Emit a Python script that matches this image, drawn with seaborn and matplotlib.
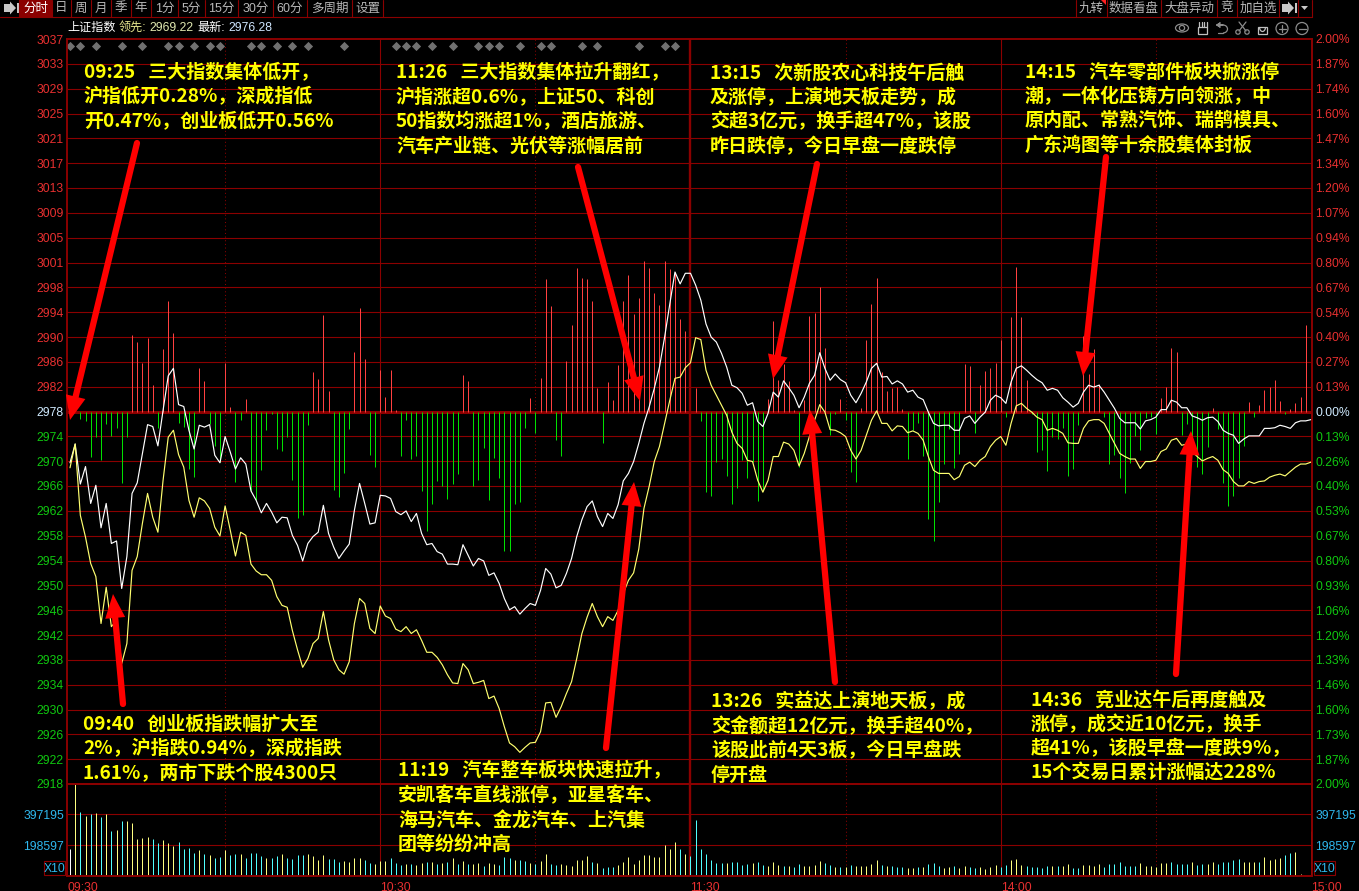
import numpy as np
import pandas as pd
import matplotlib
matplotlib.use("Agg")
import matplotlib.pyplot as plt
from matplotlib.patches import Polygon, Rectangle, Circle, Ellipse, Arc
import seaborn as sns

# ---------- data ----------
PREV_CLOSE = 2978.0
index_line = [
 2969.8,2972.8,2966.4,2969.2,2963.3,2966.2,2959.4,2963.3,2956.9,2957.3,
 2949.7,2954.8,2964.9,2966.6,2971.2,2975.9,2975.6,2972.5,2978.2,2983.7,
 2984.9,2979.1,2978.8,2975.0,2972.0,2975.8,2975.5,2975.9,2971.0,2969.8,
 2974.0,2971.5,2968.8,2970.6,2969.6,2965.3,2963.8,2961.8,2963.3,2961.9,
 2960.2,2961.1,2961.0,2958.2,2956.6,2954.1,2956.9,2958.0,2958.7,2963.0,
 2958.5,2956.3,2954.5,2955.7,2956.8,2962.2,2966.5,2963.3,2960.0,2960.2,
 2964.6,2964.5,2964.1,2962.0,2961.5,2962.1,2960.4,2961.7,2958.5,2956.7,
 2956.9,2955.6,2955.2,2953.6,2953.6,2953.5,2956.7,2955.0,2953.3,2954.5,
 2954.1,2951.8,2952.2,2950.5,2948.1,2946.3,2946.8,2945.6,2946.5,2947.3,
 2947.0,2949.4,2952.9,2952.0,2949.8,2950.2,2952.1,2954.5,2958.0,2960.7,
 2962.8,2963.7,2961.2,2959.6,2961.7,2960.9,2963.1,2966.9,2968.1,2970.0,
 2972.9,2976.1,2978.7,2981.7,2985.1,2989.9,2995.2,3000.3,2998.4,3000.1,
 3000.1,2998.2,2995.8,2992.0,2989.9,2989.1,2987.3,2985.1,2982.2,2981.8,
 2980.9,2979.0,2979.4,2976.4,2975.6,2977.7,2981.1,2980.3,2982.9,2981.8,
 2980.6,2978.6,2980.3,2982.5,2983.8,2987.4,2984.9,2983.0,2984.0,2983.1,
 2982.6,2980.6,2979.4,2980.9,2982.7,2984.9,2985.7,2983.5,2983.6,2982.4,
 2982.9,2982.4,2981.1,2981.4,2980.3,2979.9,2977.9,2976.1,2975.7,2975.8,
 2975.8,2975.0,2975.0,2976.9,2977.3,2976.1,2977.1,2977.9,2979.8,2980.6,
 2980.2,2979.3,2982.7,2984.9,2985.3,2984.6,2983.8,2983.1,2982.6,2981.4,
 2981.7,2981.4,2980.2,2979.5,2978.7,2979.3,2981.1,2982.2,2981.9,2982.2,
 2981.1,2979.8,2978.5,2976.9,2976.2,2976.2,2976.2,2975.2,2976.5,2976.7,
 2977.1,2978.3,2978.3,2979.8,2979.5,2978.6,2978.6,2977.3,2977.0,2976.6,
 2977.0,2977.1,2976.4,2975.0,2974.5,2974.2,2972.9,2973.6,2974.1,2974.1,
 2974.1,2975.3,2975.3,2975.4,2975.8,2975.6,2975.3,2976.2,2976.5,2976.5,
 2976.7]
leading_line = [
 2969.0,2972.8,2961.4,2957.9,2953.7,2951.6,2944.1,2949.9,2943.6,2944.6,
 2937.7,2940.9,2952.6,2954.8,2960.1,2964.9,2961.1,2958.7,2967.0,2973.9,
 2975.0,2971.1,2969.1,2963.8,2961.1,2964.2,2963.7,2962.5,2959.5,2958.1,
 2962.9,2959.0,2954.9,2958.7,2958.2,2953.6,2952.5,2951.9,2951.9,2951.0,
 2948.4,2947.0,2946.7,2943.0,2939.9,2937.1,2938.5,2940.9,2941.7,2946.0,
 2941.5,2938.3,2936.7,2936.0,2938.0,2944.1,2948.1,2947.3,2943.3,2942.5,
 2946.9,2945.3,2944.9,2943.2,2942.8,2943.6,2942.5,2943.1,2941.4,2939.5,
 2939.5,2938.7,2937.5,2935.9,2934.6,2934.5,2937.7,2936.7,2934.5,2934.7,
 2935.0,2932.1,2932.5,2930.5,2927.6,2925.0,2924.4,2923.5,2924.3,2925.0,
 2925.1,2926.8,2931.4,2931.5,2929.1,2930.8,2932.9,2934.8,2938.5,2942.5,
 2945.1,2947.3,2945.2,2943.6,2945.2,2944.6,2946.2,2948.9,2951.0,2952.2,
 2956.0,2962.5,2966.0,2970.0,2972.4,2976.1,2979.8,2983.3,2983.5,2985.0,
 2985.8,2989.8,2989.5,2984.6,2982.2,2980.6,2979.0,2977.4,2974.7,2972.9,
 2972.1,2970.2,2970.0,2967.0,2965.1,2967.0,2970.8,2970.8,2973.1,2972.8,
 2971.8,2969.3,2971.3,2974.0,2976.6,2979.1,2977.9,2975.1,2975.0,2974.6,
 2974.0,2971.8,2970.4,2971.8,2974.2,2976.6,2978.1,2976.1,2976.1,2974.9,
 2975.7,2975.6,2974.6,2974.9,2974.5,2973.4,2970.8,2968.6,2968.1,2968.1,
 2968.1,2967.1,2967.6,2969.4,2969.9,2969.2,2970.2,2970.8,2972.4,2973.4,
 2974.0,2972.6,2976.1,2978.9,2979.3,2978.5,2977.9,2977.1,2976.7,2975.0,
 2975.3,2975.0,2974.5,2973.0,2972.9,2972.9,2975.3,2976.5,2976.7,2976.7,
 2976.1,2974.5,2972.9,2971.3,2970.8,2970.4,2970.4,2968.9,2970.0,2970.0,
 2970.2,2971.6,2972.0,2973.4,2973.7,2972.6,2972.8,2971.6,2970.8,2970.1,
 2970.5,2970.8,2970.2,2968.7,2968.1,2966.8,2966.1,2966.1,2966.8,2966.5,
 2966.8,2966.9,2967.5,2967.8,2968.0,2967.7,2968.4,2969.1,2969.6,2969.6,
 2969.9]
# buy/sell strength stems, signed
strength = [
 0,0,-21,-27,-135,-75,-144,-36,-72,-48,
 -213,-75,231,210,147,222,81,-50,189,333,
 234,-33,-47,-171,-195,132,93,-37,-102,-150,
 147,15,-210,-24,39,-237,-264,-174,-54,-7,
 -111,-117,-75,-204,-318,-309,-42,120,96,290,
 63,-234,-255,-183,-51,180,310,159,-129,-165,
 124,43,124,6,-133,-26,-143,-134,-239,-359,
 -278,-209,-224,-263,-218,-188,109,91,-224,-206,
 -110,-266,-140,-200,-419,-419,-278,-272,-50,40,
 -65,100,397,316,-86,-134,151,259,430,400,
 397,331,70,-95,88,34,139,331,409,292,
 340,451,430,355,319,451,427,419,277,241,
 0,70,-29,-242,-254,-152,-143,-194,-278,-230,
 -144,-200,-152,-269,-236,37,271,94,144,91,
 6,-166,34,286,295,373,190,-71,-6,37,
 -26,-182,-212,10,214,322,400,118,61,70,
 73,7,-143,-56,-35,-134,-323,-389,-272,-158,
 -53,-170,-128,142,136,-65,79,121,130,145,
 214,-17,283,433,283,94,-6,-122,-116,-179,
 -77,-83,-50,-194,-173,-41,226,114,187,82,
 -17,-158,-131,-200,-245,-155,-74,-116,-20,-17,
 -68,40,73,190,178,-71,-38,-100,-167,-188,
 -107,10,-53,-215,-284,-254,-200,-104,28,-17,
 19,64,73,94,31,-6,7,25,43,259,
 0]
volume_units = [
 81,276,192,180,186,189,178,186,135,138,
 165,165,159,111,114,117,111,99,108,99,
 90,102,81,84,69,78,66,63,54,57,
 78,63,66,66,54,69,69,60,54,54,
 60,66,54,51,63,63,66,60,48,63,
 51,51,42,45,42,54,54,48,39,36,
 45,45,54,39,33,36,36,33,39,42,
 42,36,39,42,54,36,45,36,37,39,
 30,39,36,33,57,54,48,48,45,39,
 36,45,66,36,33,36,33,30,48,47,
 60,42,39,24,27,27,33,42,57,36,
 48,63,63,57,57,93,81,102,81,66,
 60,168,81,66,48,38,40,40,43,43,
 34,37,40,43,34,31,43,33,31,31,
 28,37,31,31,34,46,40,34,28,28,
 26,34,31,31,31,37,49,34,31,31,
 28,28,25,25,26,28,37,40,31,25,
 28,31,25,31,28,25,28,22,28,34,
 28,34,49,52,34,31,28,28,25,31,
 31,31,31,37,25,25,34,34,31,37,
 28,37,37,43,31,31,31,40,31,31,
 28,40,40,43,36,36,37,43,34,37,
 37,43,37,43,43,49,52,43,43,43,
 43,58,49,52,55,64,70,73,7,0,
 136]
volume_flags = ("wycycycycy" "cyyyyyccyy" "yccccycycc" "yccyccccyc" "cyccccyyyy"
                "cccyyyyccy" "yycccycyyc" "ycycycycyy" "cyycccyccy" "cyyccyyyyy"
                "ycycccyyyy" "yyyyyyyycy" "cccccccycc" "ccyccyyycy" "ccyyyyccyc"
                "ycyyyyycyc" "ccyycycccy" "ycyyccyyyy" "ccyyyccccc" "ycyyccyyyy"
                "cccccccyyy" "yyyccccycc" "yycccccyyy" "cyyyyccyyc" "y")
marker_minutes = [0,2,5,10,14,19,21,24,27,29,35,37,40,43,46,53,
                  63,65,67,70,74,79,81,83,87,91,93,99,102,110,115,117]
price_labels_up = ["3037","3033","3029","3025","3021","3017","3013","3009","3005","3001",
                   "2998","2994","2990","2986","2982"]
price_labels_down = ["2974","2970","2966","2962","2958","2954","2950","2946","2942","2938",
                     "2934","2930","2926","2922","2918"]
pct_labels_up = ["2.00%","1.87%","1.74%","1.60%","1.47%","1.34%","1.20%","1.07%","0.94%","0.80%",
                 "0.67%","0.54%","0.40%","0.27%","0.13%"]
pct_labels_down = ["0.13%","0.26%","0.40%","0.53%","0.67%","0.80%","0.93%","1.06%","1.20%","1.33%",
                   "1.46%","1.60%","1.73%","1.87%","2.00%"]
time_labels = ["09:30","10:30","11:30","14:00","15:00"]
volume_ticks = [397195, 198597]
tabs = ["分时","日","周","月","季","年","1分","5分","15分","30分","60分","多周期","设置"]
right_tabs = ["九转","数据看盘","大盘异动","竞","加自选"]
notes = [
 (84, 72, ["09:25   三大指数集体低开，","沪指低开0.28%，深成指低","开0.47%，创业板低开0.56%"]),
 (396, 73, ["11:26   三大指数集体拉升翻红，","沪指涨超0.6%，上证50、科创","50指数均涨超1%，酒店旅游、","汽车产业链、光伏等涨幅居前"]),
 (710, 73, ["13:15   次新股农心科技午后触","及涨停，上演地天板走势，成","交超3亿元，换手超47%，该股","昨日跌停，今日早盘一度跌停"]),
 (1025, 72, ["14:15   汽车零部件板块掀涨停","潮，一体化压铸方向领涨，中","原内配、常熟汽饰、瑞鹄模具、","广东鸿图等十余股集体封板"]),
 (83, 724, ["09:40   创业板指跌幅扩大至","2%，沪指跌0.94%，深成指跌","1.61%，两市下跌个股4300只"]),
 (398, 771, ["11:19   汽车整车板块快速拉升，","安凯客车直线涨停，亚星客车、","海马汽车、金龙汽车、上汽集","团等纷纷冲高"]),
 (711, 702, ["13:26   实益达上演地天板，成","交金额超12亿元，换手超40%，","该股此前4天3板，今日早盘跌","停开盘"]),
 (1031, 700, ["14:36   竞业达午后再度触及","涨停，成交近10亿元，换手","超41%，该股早盘一度跌9%，","15个交易日累计涨幅达228%"]),
]

# ---------- style ----------
W, H = 1359, 891
GRID = "#8b0000"
RED = "#e83030"
GREEN = "#10c810"
CYAN = "#2fb8ee"
STEM = 0.72
sns.set_theme(style="dark", rc={"figure.facecolor": "black", "axes.facecolor": "black",
                                "savefig.facecolor": "black", "axes.edgecolor": GRID})
plt.rcParams["font.family"] = ["Liberation Sans", "Noto Sans CJK SC", "DejaVu Sans"]
FS = 8.7

minutes = np.arange(len(index_line))
df = pd.DataFrame({"minute": minutes, "index_line": index_line, "leading_line": leading_line})
fig = plt.figure(figsize=(W / 100, H / 100), dpi=100)
def rect(l, t, r, b):
    return [l / W, 1 - b / H, (r - l) / W, (b - t) / H]
XLIM = (-0.58, 240.2)
ax = fig.add_axes(rect(67, 39, 1312, 784))
vol = fig.add_axes(rect(67, 784, 1312, 876))
for a in (ax, vol):
    a.set_xlim(*XLIM)
    a.set_facecolor("black")
    a.grid(False)
    for s in a.spines.values():
        s.set_color(GRID); s.set_linewidth(1.2)
    for m in (30, 90, 150, 210):
        a.axvline(m, color=GRID, lw=0.75, ls=(0, (1, 2.5)), zorder=1)
    for m in (60, 180):
        a.axvline(m, color=GRID, lw=0.8, zorder=1)
    a.axvline(120, color=GRID, lw=1.7, zorder=1)

# main panel
SPAN = PREV_CLOSE * 0.02
ax.set_ylim(PREV_CLOSE - SPAN, PREV_CLOSE + SPAN)
steps = np.arange(15, -16, -1)
yt = PREV_CLOSE + steps * SPAN / 15
ax.set_yticks(yt)
ax.set_yticklabels(price_labels_up + ["2978"] + price_labels_down, fontsize=FS)
for i, t in enumerate(ax.get_yticklabels()):
    t.set_color(RED if i < 15 else ("#cfeaff" if i == 15 else GREEN))
ax.tick_params(axis="y", length=0, pad=2.2)
ax.set_xticks([])
for y in yt[1:-1]:
    ax.axhline(y, color=GRID, lw=0.8 if y != yt[15] else 2.2, zorder=1)

BREADTH_K = SPAN / 1117.5   # stem height per unit
s = np.array(strength, float)
stems = ax.vlines(minutes[s != 0], PREV_CLOSE, PREV_CLOSE + s[s != 0] * BREADTH_K,
                  colors=np.where(s[s != 0] > 0, "#ff4040", "#00e000").tolist(), linewidth=STEM, zorder=2)
stems.set_capstyle("butt")
stems.set_snap(True)
sns.lineplot(data=df, x="minute", y="index_line", ax=ax, color="white", linewidth=0.85,
             zorder=3, legend=False)
sns.lineplot(data=df, x="minute", y="leading_line", ax=ax, color="#ffff70", linewidth=0.85,
             zorder=3, legend=False)
ax.scatter(marker_minutes, [PREV_CLOSE * 1.0196] * len(marker_minutes), marker="D", s=22,
           color="#707070", linewidths=0, zorder=4)
ax.set_xlabel(""); ax.set_ylabel("")

right = ax.twinx()
right.set_ylim(-2, 2)
rt = steps * 2 / 15
right.set_yticks(rt)
right.set_yticklabels(pct_labels_up + ["0.00%"] + pct_labels_down, fontsize=FS)
for i, t in enumerate(right.get_yticklabels()):
    t.set_color(RED if i < 15 else ("#cfeaff" if i == 15 else GREEN))
right.tick_params(axis="y", length=0, pad=2.2)
right.grid(False)
for sp in right.spines.values():
    sp.set_color(GRID); sp.set_linewidth(1.2)

# volume panel
VOL_UNIT = 397195 / 185
v = np.array(volume_units, float) * VOL_UNIT
cols = {"w": "white", "y": "#ffff80", "c": "#50ffff"}
vb = vol.vlines(minutes[v > 0], 0, v[v > 0], colors=[cols[c] for c, h in zip(volume_flags, v) if h > 0],
                linewidth=STEM, zorder=2)
vb.set_capstyle("butt")
vb.set_snap(True)
vol.set_ylim(0, 92 * 3 * VOL_UNIT)
vol.set_yticks(volume_ticks)
vol.set_yticklabels([str(t) for t in volume_ticks], fontsize=FS, color=CYAN)
vol.tick_params(axis="y", length=0, pad=2.2)
for t in volume_ticks:
    vol.axhline(t, color=GRID, lw=0.8, zorder=1)
vol.set_xticks([XLIM[0], 60, 120, 180, 240])
vol.set_xticklabels(time_labels, fontsize=FS, color=RED, ha="left")
vol.tick_params(axis="x", length=3, width=0.8, color=GRID, pad=1)
vr = vol.twinx()
vr.set_ylim(vol.get_ylim())
vr.set_yticks(volume_ticks)
vr.set_yticklabels([str(t) for t in volume_ticks], fontsize=FS, color=CYAN)
vr.tick_params(axis="y", length=0, pad=2.2)
vr.grid(False)
for sp in vr.spines.values():
    sp.set_color(GRID); sp.set_linewidth(1.2)

# overlay in pixel space: chrome, notes, arrows
ov = fig.add_axes([0, 0, 1, 1], zorder=10)
ov.set_xlim(0, W); ov.set_ylim(H, 0); ov.axis("off"); ov.patch.set_alpha(0)
CJK = ["Noto Sans CJK SC", "DejaVu Sans"]
for x0 in (44, 1314):
    ov.add_patch(Rectangle((x0, 861), 21, 14, fill=False, ec=GRID, lw=0.8))
    ov.text(x0 + 10.5, 868.5, "X10", color=CYAN, fontsize=FS, ha="center", va="center")
# toolbar
ov.plot([0, 1312], [17, 17], color=GRID, lw=0.8)
ov.add_patch(Rectangle((19, 0), 33, 17, color=GRID, lw=0))
seps = [19, 52, 71, 91, 111, 131, 151, 178, 205, 238, 273, 307, 352, 383]
for x in seps:
    ov.plot([x, x], [0, 17], color=GRID, lw=0.8)
for i, t in enumerate(tabs):
    ov.text((seps[i] + seps[i + 1]) / 2, 8.5, t, color="white" if i == 0 else "#b8b8b8", fontsize=9,
            ha="center", va="center", family=["Liberation Sans"] + CJK)
rseps = [1076, 1107, 1161, 1217, 1237, 1279, 1298, 1312]
for x in rseps:
    ov.plot([x, x], [0, 17], color=GRID, lw=0.8)
for i, t in enumerate(right_tabs):
    ov.text((rseps[i] + rseps[i + 1]) / 2, 8.5, t, color="#b8b8b8", fontsize=9, ha="center", va="center",
            family=CJK)
ov.add_patch(Polygon([(1101, 0), (1106, 0), (1106, 5)], color="#ff2020", lw=0))
for x0 in (4, 1282):
    ov.add_patch(Polygon([(x0, 4), (x0 + 6, 4), (x0 + 6, 1.5), (x0 + 12, 8), (x0 + 6, 14.5), (x0 + 6, 12), (x0, 12)],
                         color="#c8c8c8", lw=0))
    ov.add_patch(Rectangle((x0 + 12.5, 3), 2, 10, color="#c8c8c8", lw=0))
ov.add_patch(Polygon([(1301, 6), (1308, 6), (1304.5, 10)], color="#c8c8c8", lw=0))
# header line
for x, t, c in [(67, "上证指数", "white"), (119, "领先:", "#e8e890"), (149, "2969.22", "#e0e8b0"),
                (197, "最新:", "white"), (228, "2976.28", "#cfe6ff")]:
    ov.text(x, 28, t, color=c, fontsize=FS, ha="left", va="center", family=["Liberation Sans"] + CJK)
# icons
IC = "#8c8c8c"
ov.add_patch(Ellipse((1182, 28), 13, 8, fill=False, ec=IC, lw=0.9))
ov.add_patch(Circle((1182, 28), 2.6, fill=False, ec=IC, lw=0.9))
ov.add_patch(Rectangle((1198, 27), 9, 7, fill=False, ec="#c0c0c0", lw=0.9))
for x in (1199, 1201.5, 1204, 1206.5):
    ov.plot([x, x], [22, 27], color="#c0c0c0", lw=0.9)
ov.add_patch(Arc((1223, 29), 9, 8, theta1=-90, theta2=90, ec=IC, lw=0.9))
ov.plot([1223, 1217, 1220, 1217, 1220, 1217, 1223], [25, 25, 23, 25, 27, 25, 25], color=IC, lw=0.9)
ov.plot([1218, 1223], [33, 33], color=IC, lw=0.9)
ov.plot([1239, 1246], [22, 31], color=IC, lw=0.9)
ov.plot([1246, 1239], [22, 31], color=IC, lw=0.9)
ov.add_patch(Circle((1238, 32), 2.2, fill=False, ec=IC, lw=0.9))
ov.add_patch(Circle((1247, 32), 2.2, fill=False, ec=IC, lw=0.9))
ov.add_patch(Rectangle((1258, 27), 9, 7, fill=False, ec="#c0c0c0", lw=0.9))
ov.add_patch(Arc((1262.5, 27), 6, 9, theta1=0, theta2=180, ec="#c0c0c0", lw=0.9))
for cx in (1282, 1302):
    ov.add_patch(Circle((cx, 28.5), 6, fill=False, ec=IC, lw=0.9))
    ov.plot([cx - 3.5, cx + 3.5], [28.5, 28.5], color=IC, lw=0.9)
ov.plot([1282, 1282], [25, 32], color=IC, lw=0.9)
# notes
LINE_H = 24.4
for x, y, lines in notes:
    for k, line in enumerate(lines):
        ov.text(x, y + k * LINE_H, line, color="#ffff00", fontsize=13.7, ha="left", va="center",
                family=CJK, fontweight="bold", zorder=5)
# arrows (tail to tip)
arrows = [((137, 143), (70, 420)), ((123, 704), (113, 594)), ((578, 167), (640, 401)), ((606, 748), (634, 482)),
          ((817, 164), (773, 379)), ((835, 682), (810, 410)), ((1106, 157), (1083, 376)), ((1176, 674), (1191, 431))]
for tail, tip in arrows:
    t0, t1 = np.array(tail, float), np.array(tip, float)
    d = (t1 - t0) / np.linalg.norm(t1 - t0)
    n = np.array([-d[1], d[0]])
    base = t1 - d * 24
    ov.plot([t0[0], base[0]], [t0[1], base[1]], color="#ff0000", lw=4.5, solid_capstyle="round", zorder=6)
    ov.add_patch(Polygon([t1, base + n * 10, base - n * 10], color="#ff0000", lw=0, zorder=6))

fig.savefig("out.png", dpi=100, facecolor="black")
